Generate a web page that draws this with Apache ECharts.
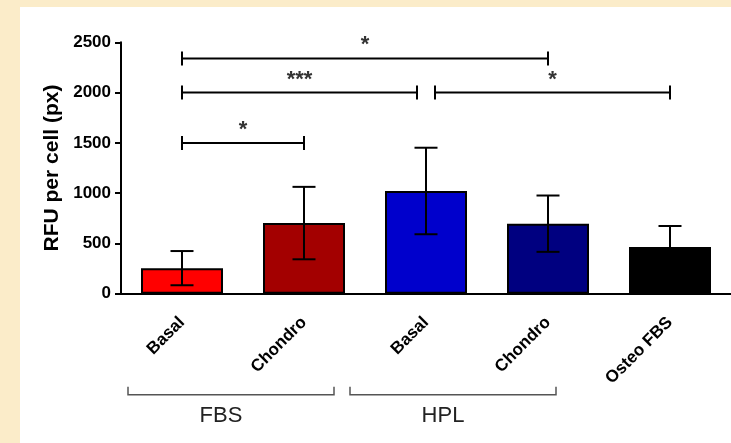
<!DOCTYPE html>
<html>
<head>
<meta charset="utf-8">
<script src="https://cdn.jsdelivr.net/npm/echarts@6/dist/echarts.min.js"></script>
<style>
html, body { margin: 0; padding: 0; background: #FBECC9; }
#main { width: 731px; height: 443px; }
</style>
</head>
<body>
<div id="main"></div>
<script>
// data (mean and SD per group)
var categories = ['Basal', 'Chondro', 'Basal', 'Chondro', 'Osteo FBS'];
var means = [255, 703, 1022, 697, 464];
var sds = [170, 360, 430, 280, 210];
var yTicks = [0, 500, 1000, 1500, 2000, 2500];

// significance brackets: from, to, height, mark
var compFrom = [0, 0, 2, 0];
var compTo = [3, 2, 4, 1];
var compLevel = [2340, 2000, 2000, 1500];
var compMark = ['*', '***', '*', '*'];

// media groups under the labels
var groupNames = ['FBS', 'HPL'];
var groupFirst = [0, 2];
var groupLast = [1, 3];

// styles
var barColors = ['#FF0000', '#A30000', '#0000CC', '#000080', '#000000'];
var font = '"Liberation Sans", Arial, Helvetica, sans-serif';
var groupPad = [[54, 30], [76, 8]];   // px left / right of the bar centres

var myChart = echarts.init(document.getElementById('main'));

function renderErr(params, api) {
    var i = api.value(0);
    var hi = api.coord([i, api.value(2)]);
    var lo = api.coord([i, api.value(1)]);
    var x = hi[0], w = 11.5;
    var ls = { stroke: '#000', lineWidth: 2 };
    return {
        type: 'group',
        children: [
            { type: 'line', shape: { x1: x, y1: hi[1], x2: x, y2: lo[1] }, style: ls },
            { type: 'line', shape: { x1: x - w, y1: hi[1], x2: x + w, y2: hi[1] }, style: ls },
            { type: 'line', shape: { x1: x - w, y1: lo[1], x2: x + w, y2: lo[1] }, style: ls }
        ]
    };
}

function renderSig(params, api) {
    var k = params.dataIndex;
    var p0 = api.coord([compFrom[k], compLevel[k]]);
    var p1 = api.coord([compTo[k], compLevel[k]]);
    var x0 = p0[0], x1 = p1[0], y = p0[1];
    // leave a small gap where two brackets meet on the same line
    for (var j = 0; j < compFrom.length; j++) {
        if (j === k || compLevel[j] !== compLevel[k]) continue;
        if (compTo[j] === compFrom[k]) x0 += 9;
        if (compFrom[j] === compTo[k]) x1 -= 9;
    }
    var ls = { stroke: '#000', lineWidth: 2 };
    return {
        type: 'group',
        children: [
            { type: 'line', shape: { x1: x0, y1: y, x2: x1, y2: y }, style: ls },
            { type: 'line', shape: { x1: x0, y1: y - 7, x2: x0, y2: y + 7 }, style: ls },
            { type: 'line', shape: { x1: x1, y1: y - 7, x2: x1, y2: y + 7 }, style: ls },
            {
                type: 'text', x: (x0 + x1) / 2, y: y - 13,
                style: { text: compMark[k], font: 'bold 22px ' + font, fill: '#333', align: 'center', verticalAlign: 'middle' }
            }
        ]
    };
}

function renderGroup(params, api) {
    var k = params.dataIndex;
    var a = api.coord([groupFirst[k], 0]);
    var b = api.coord([groupLast[k], 0]);
    var x0 = a[0] - groupPad[k][0], x1 = b[0] + groupPad[k][1];
    var top = a[1] + 93, bot = a[1] + 101;
    return {
        type: 'group',
        children: [
            {
                type: 'polyline',
                shape: { points: [[x0, top], [x0, bot], [x1, bot], [x1, top]] },
                style: { stroke: '#555', lineWidth: 1.5, fill: null }
            },
            {
                type: 'text', x: (x0 + x1) / 2 - 10, y: a[1] + 122,
                style: { text: groupNames[k], font: '22px ' + font, fill: '#222', align: 'center', verticalAlign: 'middle' }
            }
        ]
    };
}

var option = {
    animation: false,
    backgroundColor: '#FBECC9',
    graphic: [{
        type: 'rect', z: -100, silent: true,
        shape: { x: 20, y: 7, width: 720, height: 440 },
        style: { fill: '#FFFFFF' }
    }],
    grid: { left: 121, top: 42.3, width: 613, height: 251.5 },
    xAxis: {
        type: 'category',
        data: categories,
        axisLine: { lineStyle: { color: '#000', width: 2 } },
        axisTick: { alignWithLabel: true, length: 6, lineStyle: { color: '#000', width: 2 } },
        axisLabel: {
            interval: 0, rotate: 45, margin: 26,
            color: '#000', fontWeight: 'bold', fontSize: 17, fontFamily: font
        }
    },
    yAxis: {
        type: 'value',
        min: yTicks[0], max: yTicks[yTicks.length - 1], interval: 500,
        name: 'RFU per cell (px)',
        nameLocation: 'middle', nameGap: 53,
        nameTextStyle: { color: '#000', fontWeight: 'bold', fontSize: 21, fontFamily: font },
        axisLine: { show: true, lineStyle: { color: '#000', width: 2 } },
        axisTick: { show: true, length: 6, lineStyle: { color: '#000', width: 2 } },
        splitLine: { show: false },
        axisLabel: {
            margin: 10, color: '#000', fontWeight: 'bold', fontSize: 17, fontFamily: font,
            formatter: function (v) { return String(v); }
        }
    },
    series: [
        {
            type: 'bar',
            barWidth: 82,
            data: means.map(function (m, i) {
                return { value: m, itemStyle: { color: barColors[i] } };
            }),
            itemStyle: { borderColor: '#000', borderWidth: 2 }
        },
        {
            type: 'custom',
            renderItem: renderErr,
            z: 5,
            encode: { x: 0, y: [1, 2] },
            data: means.map(function (m, i) { return [i, m - sds[i], m + sds[i]]; })
        },
        {
            type: 'custom',
            renderItem: renderSig,
            z: 5,
            encode: { x: [0, 1], y: 2 },
            data: compFrom.map(function (f, k) { return [f, compTo[k], compLevel[k]]; })
        },
        {
            type: 'custom',
            renderItem: renderGroup,
            z: 5,
            encode: { x: [0, 1] },
            data: groupFirst.map(function (f, k) { return [f, groupLast[k]]; })
        }
    ]
};
myChart.setOption(option);
</script>
</body>
</html>
